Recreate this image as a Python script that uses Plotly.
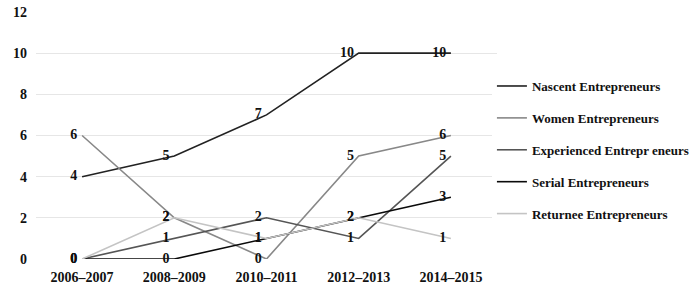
import plotly.graph_objects as go

categories = ["2006–2007", "2008–2009", "2010–2011", "2012–2013", "2014–2015"]
nascent = [4, 5, 7, 10, 10]
women = [6, 2, 0, 5, 6]
experienced = [0, 1, 2, 1, 5]
serial = [0, 0, 1, 2, 3]
returnee = [0, 2, 1, 2, 1]

series = [
    ("Nascent Entrepreneurs", nascent, "#222222"),
    ("Women Entrepreneurs", women, "#888888"),
    ("Experienced Entrepr eneurs", experienced, "#555555"),
    ("Serial Entrepreneurs", serial, "#0a0a0a"),
    ("Returnee Entrepreneurs", returnee, "#c4c4c4"),
]

FONT = "Liberation Serif"
fig = go.Figure()
for i, (name, vals, col) in enumerate(series):
    fig.add_trace(go.Scatter(
        x=categories, y=vals, name=name, mode="lines+markers+text",
        legendgroup=f"g{i}",
        line=dict(color=col, width=1.6),
        marker=dict(size=6, color="rgba(0,0,0,0)", line=dict(width=0)),
        text=[str(v) for v in vals], textposition="middle left",
        textfont=dict(family=FONT, size=14, color="#111111", weight="bold"),
        cliponaxis=False,
    ))

fig.update_layout(
    width=700, height=298,
    margin=dict(l=36, r=203, t=12, b=39, autoexpand=False),
    plot_bgcolor="white", paper_bgcolor="white",
    font=dict(family=FONT, size=14, color="#111111"),
    xaxis=dict(type="category", range=[-0.5, 4.5], showgrid=False, showline=False,
               ticks="", automargin=False, ticklabelstandoff=8,
               tickfont=dict(family=FONT, size=14, weight="bold")),
    yaxis=dict(range=[0, 12], dtick=2, showgrid=True, gridcolor="#e6e6e6", gridwidth=1,
               zeroline=False, showline=False, ticks="", ticklabelstandoff=8,
               automargin=False, ticklabeloverflow="allow",
               tickfont=dict(family=FONT, size=14, weight="bold")),
    legend=dict(x=0.989, y=0.761, yanchor="top", xanchor="left",
                font=dict(family=FONT, size=13, weight="bold"),
                tracegroupgap=12, itemwidth=30, traceorder="grouped"),
)

fig.write_html("out.html", config={"displayModeBar": False},
               post_script="document.body.style.margin='0';")
